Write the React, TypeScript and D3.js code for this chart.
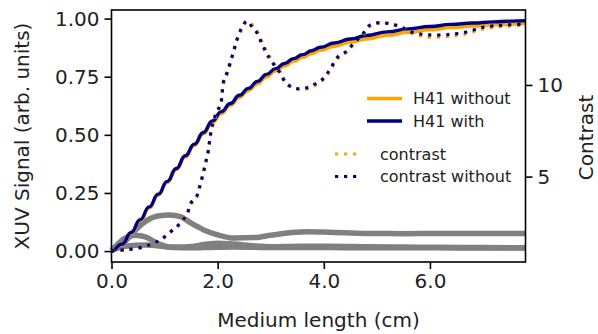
import * as d3 from 'd3';
import { useEffect, useRef } from 'react';

// medium length (cm) at the treads of the staircase
const stepLength = [
  0, 0.2, 0.37, 0.54, 0.71, 0.88, 1.05, 1.22, 1.39, 1.56, 1.73, 1.9, 2.07, 2.24, 2.41, 2.58, 2.75,
  2.92, 3.09, 3.26, 3.43, 3.6, 3.77, 3.94, 4.2, 4.5, 4.8, 5.2, 5.6, 6.0, 6.4, 6.8, 7.2, 7.5, 7.8,
];
const h41With = [
  0, 0.03, 0.08, 0.135, 0.19, 0.245, 0.3, 0.355, 0.41, 0.46, 0.51, 0.56, 0.6, 0.635, 0.67, 0.7, 0.73,
  0.76, 0.785, 0.807, 0.828, 0.845, 0.862, 0.877, 0.895, 0.912, 0.927, 0.943, 0.956, 0.966, 0.975,
  0.981, 0.986, 0.989, 0.991,
];
const h41Without = [
  0, 0.027, 0.076, 0.13, 0.185, 0.24, 0.295, 0.35, 0.404, 0.454, 0.503, 0.552, 0.592, 0.627, 0.661,
  0.691, 0.72, 0.749, 0.774, 0.796, 0.816, 0.833, 0.849, 0.864, 0.881, 0.898, 0.912, 0.928, 0.941,
  0.952, 0.961, 0.968, 0.973, 0.976, 0.979,
];

const grayLength = [
  0, 0.25, 0.45, 0.65, 0.9, 1.1, 1.3, 1.5, 1.75, 2.0, 2.3, 2.7, 3.0, 3.4, 3.7, 4.1, 4.8, 5.5, 6.1, 7.0, 7.8,
];
const grayA = [
  0.003, 0.04, 0.09, 0.13, 0.152, 0.155, 0.148, 0.12, 0.09, 0.07, 0.056, 0.058, 0.068, 0.08, 0.083,
  0.081, 0.076, 0.075, 0.076, 0.076, 0.076,
];
const grayB = [
  0.003, 0.055, 0.068, 0.06, 0.03, 0.018, 0.017, 0.02, 0.028, 0.034, 0.03, 0.022, 0.019, 0.02, 0.021,
  0.021, 0.019, 0.017, 0.016, 0.015, 0.014,
];
const grayC = [
  0.003, 0.02, 0.025, 0.026, 0.022, 0.016, 0.014, 0.014, 0.015, 0.016, 0.017, 0.016, 0.015, 0.015,
  0.015, 0.015, 0.014, 0.014, 0.014, 0.013, 0.013,
];

const contrastLength = [
  0, 0.3, 0.6, 0.78, 0.94, 1.09, 1.23, 1.35, 1.44, 1.5, 1.6, 1.66, 1.72, 1.77, 1.82, 1.85, 1.88, 1.95,
  2.06, 2.11, 2.18, 2.28, 2.36, 2.45, 2.55, 2.64, 2.74, 2.83, 2.92, 3.02, 3.18, 3.29, 3.46, 3.65, 3.8,
  3.96, 4.09, 4.27, 4.42, 4.56, 4.72, 4.87, 5.06, 5.25, 5.44, 5.63, 5.82, 6.0, 6.25, 6.44, 6.63, 6.82,
  7.0, 7.2, 7.45, 7.8,
];
const contrastWithout = [
  0.95, 1.02, 1.16, 1.35, 1.58, 1.94, 2.27, 2.63, 3.09, 3.58, 3.9, 4.45, 5.1, 5.73, 6.36, 7.0, 7.55,
  8.3, 9.03, 10.18, 10.7, 11.64, 12.45, 13.09, 13.49, 13.2, 12.85, 12.27, 11.73, 11.27, 10.64, 10.09,
  9.82, 9.82, 10.0, 10.27, 10.73, 11.55, 11.82, 12.27, 12.73, 13.27, 13.4, 13.33, 13.18, 12.91,
  12.78, 12.73, 12.73, 12.78, 12.85, 13.0, 13.15, 13.22, 13.27, 13.33,
];
const contrast = [
  0.95, 1.01, 1.14, 1.32, 1.55, 1.9, 2.22, 2.58, 3.02, 3.5, 3.82, 4.37, 5.0, 5.63, 6.26, 6.9, 7.45,
  8.2, 8.93, 10.05, 10.6, 11.55, 12.35, 13.0, 13.45, 13.3, 12.95, 12.4, 11.85, 11.35, 10.7, 10.12,
  9.8, 9.76, 9.92, 10.2, 10.65, 11.45, 11.75, 12.2, 12.65, 13.2, 13.38, 13.35, 13.2, 12.85, 12.68,
  12.6, 12.62, 12.68, 12.76, 12.9, 13.05, 13.14, 13.2, 13.27,
];

const xTicks = [0, 2, 4, 6];
const yTicks = [0, 0.25, 0.5, 0.75, 1.0];
const contrastTicks = [5, 10];

const W = 598;
const H = 334;
const FONT = 'DejaVu Sans, sans-serif';
const ORANGE = '#ffa500';
const NAVY = '#000080';
const DOTS = '3.2 5.8';

export default function App() {
  const svgRef = useRef<SVGSVGElement>(null);

  useEffect(() => {
    if (svgRef.current == null) {
      return;
    }
    const svg = d3.select(svgRef.current);
    svg.selectAll('*').remove();

    const left = 111.5;
    const right = 525.5;
    const top = 10;
    const bottom = 262;

    const x = d3.scaleLinear().domain([0, 7.8]).range([left, right]);
    const y = d3.scaleLinear().domain([-0.047, 1.037]).range([bottom, top]);
    const yc = d3.scaleLinear().domain([0.34, 14.09]).range([bottom, top]);

    const plot = svg.append('g');

    const grayLine = d3
      .line<number>()
      .x((_, i) => x(grayLength[i]))
      .y((d) => y(d))
      .curve(d3.curveMonotoneX);
    for (const series of [grayC, grayB, grayA]) {
      plot
        .append('path')
        .attr('d', grayLine(series))
        .attr('fill', 'none')
        .attr('stroke', '#808080')
        .attr('stroke-width', 5.5);
    }

    // bumpX keeps a flat tread at every sample and a steep riser between them
    const stepLine = d3
      .line<number>()
      .x((_, i) => x(stepLength[i]))
      .y((d) => y(d))
      .curve(d3.curveBumpX);
    for (const [series, color] of [
      [h41Without, ORANGE],
      [h41With, NAVY],
    ] as [number[], string][]) {
      plot
        .append('path')
        .attr('d', stepLine(series))
        .attr('fill', 'none')
        .attr('stroke', color)
        .attr('stroke-width', 3.4);
    }

    const contrastLine = d3
      .line<number>()
      .x((_, i) => x(contrastLength[i]))
      .y((d) => yc(d))
      .curve(d3.curveCatmullRom);
    for (const [series, color] of [
      [contrast, ORANGE],
      [contrastWithout, NAVY],
    ] as [number[], string][]) {
      plot
        .append('path')
        .attr('d', contrastLine(series))
        .attr('fill', 'none')
        .attr('stroke', color)
        .attr('stroke-width', 3.2)
        .attr('stroke-dasharray', DOTS);
    }

    // frame
    svg
      .append('rect')
      .attr('x', left)
      .attr('y', top)
      .attr('width', right - left)
      .attr('height', bottom - top)
      .attr('fill', 'none')
      .attr('stroke', 'black')
      .attr('stroke-width', 1.6);

    const styleAxis = (g: d3.Selection<SVGGElement, unknown, null, undefined>) => {
      g.select('.domain').remove();
      g.selectAll('.tick line').attr('stroke', 'black').attr('stroke-width', 1.6);
      g.selectAll('.tick text').attr('fill', '#222').style('font', `20px ${FONT}`);
    };

    svg
      .append('g')
      .attr('transform', `translate(0, ${bottom})`)
      .call(d3.axisBottom(x).tickValues(xTicks).tickFormat(d3.format('.1f')).tickSize(7).tickPadding(5))
      .call(styleAxis);

    svg
      .append('g')
      .attr('transform', `translate(${left}, 0)`)
      .call(d3.axisLeft(y).tickValues(yTicks).tickFormat(d3.format('.2f')).tickSize(7).tickPadding(5))
      .call(styleAxis);

    svg
      .append('g')
      .attr('transform', `translate(${right}, 0)`)
      .call(d3.axisRight(yc).tickValues(contrastTicks).tickFormat(d3.format('d')).tickSize(7).tickPadding(5))
      .call(styleAxis);

    svg
      .append('text')
      .attr('x', (left + right) / 2)
      .attr('y', 327)
      .attr('text-anchor', 'middle')
      .attr('fill', '#222')
      .style('font', `20px ${FONT}`)
      .text('Medium length (cm)');

    svg
      .append('text')
      .attr('transform', `translate(29, ${(top + bottom) / 2}) rotate(-90)`)
      .attr('text-anchor', 'middle')
      .attr('fill', '#222')
      .style('font', `20px ${FONT}`)
      .text('XUV Signal (arb. units)');

    svg
      .append('text')
      .attr('transform', `translate(592.5, ${(top + bottom) / 2 + 1.5}) rotate(-90)`)
      .attr('text-anchor', 'middle')
      .attr('fill', '#222')
      .style('font', `20px ${FONT}`)
      .text('Contrast');

    // legends
    const legendSolid = [
      { label: 'H41 without', color: ORANGE, y: 98.5 },
      { label: 'H41 with', color: NAVY, y: 121 },
    ];
    for (const item of legendSolid) {
      svg
        .append('line')
        .attr('x1', 367)
        .attr('x2', 402)
        .attr('y1', item.y)
        .attr('y2', item.y)
        .attr('stroke', item.color)
        .attr('stroke-width', 3.4);
      svg
        .append('text')
        .attr('x', 413)
        .attr('y', item.y + 5.5)
        .attr('fill', '#222')
        .style('font', `16px ${FONT}`)
        .text(item.label);
    }
    const legendDotted = [
      { label: 'contrast', color: ORANGE, y: 154 },
      { label: 'contrast without', color: NAVY, y: 176.5 },
    ];
    for (const item of legendDotted) {
      svg
        .append('line')
        .attr('x1', 335)
        .attr('x2', 362)
        .attr('y1', item.y)
        .attr('y2', item.y)
        .attr('stroke', item.color)
        .attr('stroke-width', 3.2)
        .attr('stroke-dasharray', DOTS);
      svg
        .append('text')
        .attr('x', 380)
        .attr('y', item.y + 5.5)
        .attr('fill', '#222')
        .style('font', `16px ${FONT}`)
        .text(item.label);
    }
  }, []);

  return (
    <svg
      ref={svgRef}
      width={W}
      height={H}
      style={{ position: 'absolute', left: 0, top: 0, background: 'white' }}
    ></svg>
  );
}
